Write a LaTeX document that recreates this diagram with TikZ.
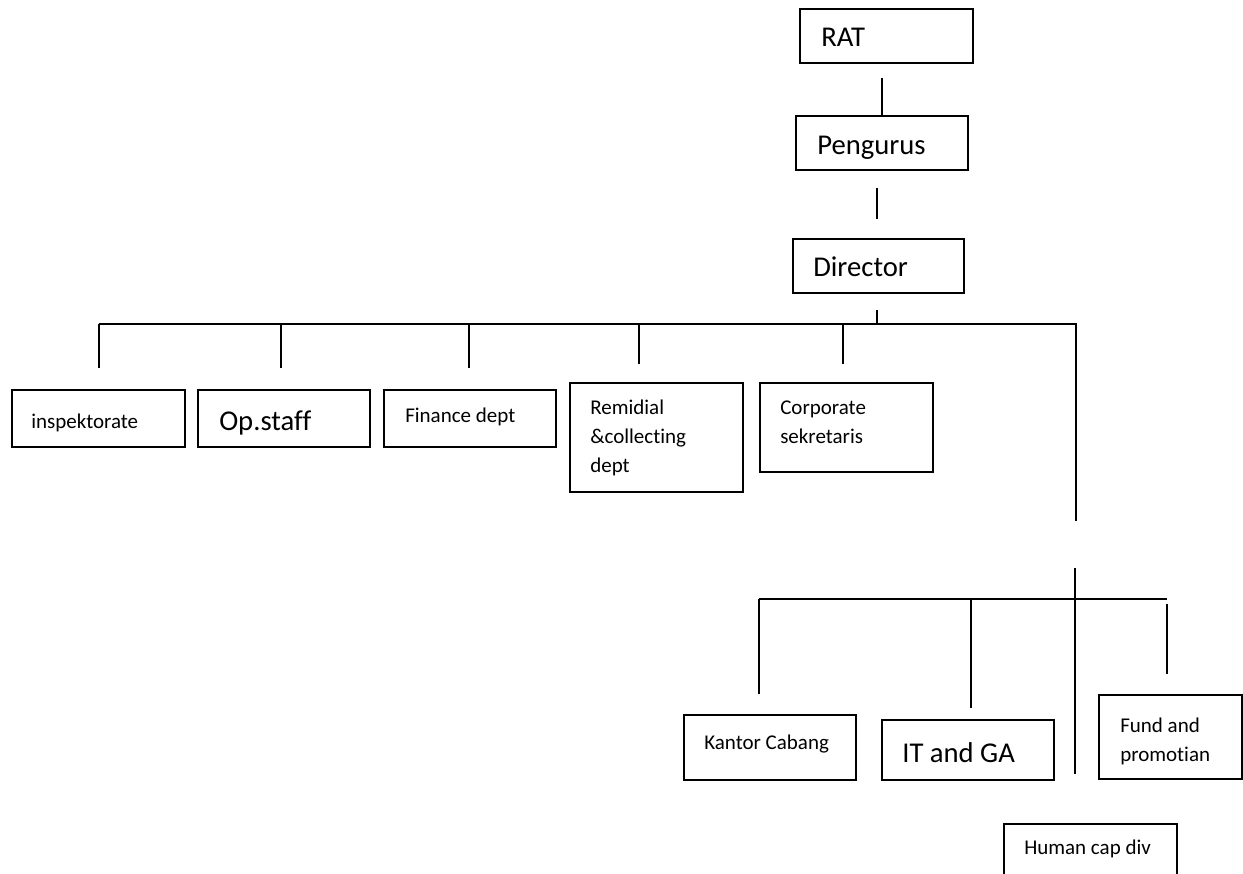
\documentclass[tikz,border=0pt]{standalone}
\usepackage{fontspec}
\setmainfont{Carlito}[Ligatures={NoCommon,NoRare,NoDiscretionary}]
\begin{document}
\begin{tikzpicture}[x=0.75pt,y=-0.75pt,
  box/.style={draw,line width=1.3pt,rectangle,inner sep=0pt,anchor=north west},
  conn/.style={line width=1.3pt},
  big/.style={anchor=base west,inner sep=0pt,font=\fontsize{21.5}{26}\selectfont},
  small/.style={anchor=base west,inner sep=0pt,align=left,font=\fontsize{15.75}{21.75}\selectfont}]
\clip (0,0) rectangle (1243,874);
% boxes
\node[box,minimum width=173*0.75pt,minimum height=54*0.75pt] (rat) at (799,8) {};
\node[box,minimum width=172*0.75pt,minimum height=54*0.75pt] (peng) at (795,115) {};
\node[box,minimum width=171*0.75pt,minimum height=54*0.75pt] (dir) at (792,238) {};
\node[box,minimum width=173*0.75pt,minimum height=57*0.75pt] (insp) at (11,389) {};
\node[box,minimum width=172*0.75pt,minimum height=57*0.75pt] (ops) at (197,389) {};
\node[box,minimum width=172*0.75pt,minimum height=57*0.75pt] (fin) at (383,389) {};
\node[box,minimum width=173*0.75pt,minimum height=109*0.75pt] (rem) at (569,382) {};
\node[box,minimum width=173*0.75pt,minimum height=89*0.75pt] (corp) at (759,382) {};
\node[box,minimum width=172*0.75pt,minimum height=65*0.75pt] (kant) at (683,714) {};
\node[box,minimum width=172*0.75pt,minimum height=60*0.75pt] (itga) at (881,719) {};
\node[box,minimum width=143*0.75pt,minimum height=84*0.75pt] (fund) at (1098,694) {};
\node[box,minimum width=173*0.75pt,minimum height=80*0.75pt] (human) at (1003,823) {};
% texts (multi-line: placed by baseline of last line)
\node[big] (tRAT) at (821,47) {RAT};
\node[big] (tPeng) at (817,154) {Pengurus};
\node[big] (tDir) at (813,276) {Director};
\node[small] (tInsp) at (31,428) {inspektorate};
\node[big] (tOps) at (219,430) {Op.staff};
\node[small] (tFin) at (405,422) {Finance dept};
\node[small] (tRem) at (590,472) {Remidial\\\&collecting\\dept};
\node[small] (tCorp) at (780,443) {Corporate\\sekretaris};
\node[small] (tKant) at (704,749) {Kantor Cabang};
\node[big] (tIT) at (902,762) {IT and GA};
\node[small] (tFund) at (1120,761) {Fund and\\promotian};
\node[small] (tHum) at (1024,854) {Human cap div};
% connector coordinates
\coordinate (a1) at (882,78);
\coordinate (b1) at (877,188);
\coordinate (b2) at (877,219);
\coordinate (d1) at (877,310);
\coordinate (bus) at (877,324);
\coordinate (busL) at (99,324);
\coordinate (busR) at (1076,324);
\coordinate (down1) at (1076,521);
\coordinate (v2top) at (1075,568);
\coordinate (v2bot) at (1075,774);
\coordinate (bus2L) at (759,599);
\coordinate (bus2R) at (1167,599);
% connectors
\draw[conn] (a1) -- (a1 |- peng.north);
\draw[conn] (b1) -- (b2);
\draw[conn] (d1) -- (bus);
\draw[conn] (busL) -- (busR) -- (down1);
\draw[conn] (busL) -- (99,368);
\draw[conn] (281,324) -- (281,368);
\draw[conn] (469,324) -- (469,368);
\draw[conn] (639,324) -- (639,364);
\draw[conn] (843,324) -- (843,364);
\draw[conn] (v2top) -- (v2bot);
\draw[conn] (bus2L) -- (bus2R);
\draw[conn] (bus2L) -- (759,694);
\draw[conn] (971,599) -- (971,708);
\draw[conn] (1167,604) -- (1167,674);
\end{tikzpicture}
\end{document}
